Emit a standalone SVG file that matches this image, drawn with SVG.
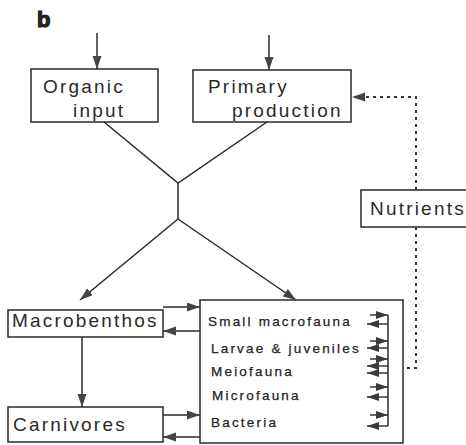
<svg xmlns="http://www.w3.org/2000/svg" width="466" height="445" viewBox="0 0 466 445">
<defs>
<marker id="ah" markerUnits="userSpaceOnUse" markerWidth="14" markerHeight="10" refX="13" refY="4.5" orient="auto">
<path d="M0,0 L13,4.5 L0,9 z" fill="#444"/>
</marker>
<marker id="sh" markerUnits="userSpaceOnUse" markerWidth="13" markerHeight="9" refX="12" refY="4" orient="auto">
<path d="M0,0 L12,4 L0,8 z" fill="#3a3a3a"/>
</marker>
</defs>
<style>
.box{fill:#fff;stroke:#2a2a2a;stroke-width:1.5}
.big{font-family:"Liberation Sans",Arial,sans-serif;font-size:19px;letter-spacing:2.2px;fill:#2a2a2a}
.sm{font-family:"Liberation Sans",Arial,sans-serif;font-size:13.5px;letter-spacing:2.2px;fill:#222;stroke:#222;stroke-width:0.25}
.ln{stroke:#2a2a2a;stroke-width:1.5;fill:none}
.ar{stroke:#2a2a2a;stroke-width:1.5;fill:none;marker-end:url(#ah)}
.sa{stroke:#2a2a2a;stroke-width:1.4;fill:none;marker-end:url(#sh)}
.dt{stroke:#333;stroke-width:2;fill:none;stroke-dasharray:3,4}
</style>
<rect width="466" height="445" fill="#fff"/>
<text x="37" y="27" font-family="Liberation Sans,Arial,sans-serif" font-size="22" font-weight="bold" fill="#222" stroke="#222" stroke-width="1.2">b</text>

<g id="organic-input">
<rect class="box" x="31" y="69" width="127" height="53"/>
<text class="big" x="43" y="93">Organic</text>
<text class="big" x="73" y="117">input</text>
</g>
<g id="primary-production">
<rect class="box" x="193" y="70" width="158" height="52"/>
<text class="big" x="208" y="93">Primary</text>
<text class="big" x="232" y="117">production</text>
</g>
<g id="nutrients">
<rect class="box" x="361" y="190" width="115" height="37"/>
<text class="big" x="370" y="215">Nutrients</text>
</g>
<g id="macrobenthos">
<rect class="box" x="8" y="310" width="155" height="27"/>
<text class="big" x="12" y="327">Macrobenthos</text>
</g>
<g id="carnivores">
<rect class="box" x="8" y="407" width="155" height="35"/>
<text class="big" x="13" y="431">Carnivores</text>
</g>
<g id="small-organisms">
<rect class="box" x="200" y="300" width="203" height="143"/>
<text class="sm" x="208" y="326">Small macrofauna</text>
<text class="sm" x="211" y="353">Larvae &amp; juveniles</text>
<text class="sm" x="211" y="376">Meiofauna</text>
<text class="sm" x="212" y="400">Microfauna</text>
<text class="sm" x="211" y="427">Bacteria</text>
</g>

<g id="connectors">
<line class="ar" x1="97" y1="33" x2="97" y2="69"/>
<line class="ar" x1="269" y1="35" x2="269" y2="70"/>
<polyline class="ln" points="104,122 178,183 267,122"/>
<line class="ln" x1="178" y1="183" x2="178" y2="219"/>
<line class="ar" x1="178" y1="219" x2="80" y2="300"/>
<line class="ar" x1="178" y1="219" x2="296" y2="300"/>
<line class="ar" x1="82" y1="337" x2="82" y2="407"/>
<line class="ar" x1="163" y1="307" x2="200" y2="307"/>
<line class="ar" x1="200" y1="331" x2="163" y2="331"/>
<line class="ar" x1="163" y1="415" x2="200" y2="415"/>
<line class="ar" x1="200" y1="437" x2="163" y2="437"/>
<polyline class="dt" points="416,190 416,97 362,97"/>
<path d="M352,97 L365,92.5 L365,101.5 z" fill="#444"/>
<polyline class="dt" points="416,227 416,368 403,368"/>
<line class="ln" x1="388" y1="315" x2="388" y2="426"/>
<line class="sa" x1="370" y1="315" x2="388" y2="315"/>
<line class="sa" x1="388" y1="324" x2="367" y2="324"/>
<line class="sa" x1="370" y1="341" x2="388" y2="341"/>
<line class="sa" x1="388" y1="348" x2="367" y2="348"/>
<line class="sa" x1="370" y1="359" x2="388" y2="359"/>
<line class="sa" x1="388" y1="366" x2="367" y2="366"/>
<line class="sa" x1="388" y1="373" x2="367" y2="373"/>
<line class="sa" x1="370" y1="387" x2="388" y2="387"/>
<line class="sa" x1="388" y1="397" x2="367" y2="397"/>
<line class="sa" x1="370" y1="415" x2="388" y2="415"/>
<line class="sa" x1="388" y1="426" x2="367" y2="426"/>
</g>
</svg>
